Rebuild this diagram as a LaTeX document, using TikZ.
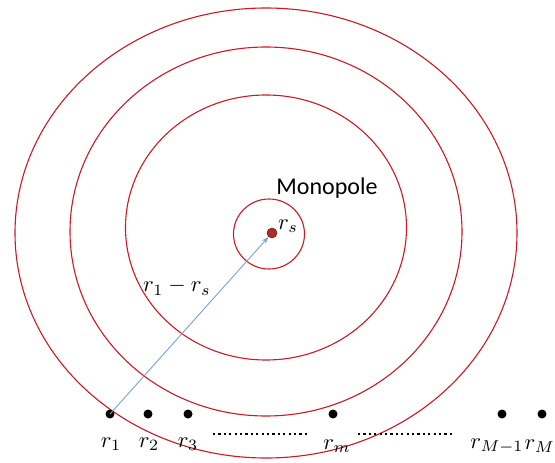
\documentclass[tikz,border=0pt]{standalone}
\usepackage{fontspec}
\newfontfamily\labelfont{Carlito}
\usetikzlibrary{arrows.meta}
\definecolor{ringred}{RGB}{205,25,35}
\definecolor{arrowblue}{RGB}{120,160,210}
\definecolor{srcfill}{RGB}{170,45,40}
\newcommand{\bigmath}[1]{\scalebox{2.25}{$#1$}}
\tikzset{
  ring/.style={draw=ringred, line width=1.1pt},
  sensor/.style={circle, fill=black, inner sep=0pt, minimum size=9pt},
  lbl/.style={inner sep=0pt},
  dotline/.style={line width=2.2pt, dash pattern=on 2.2pt off 3.2pt}
}
\begin{document}
\begin{tikzpicture}[x=1pt,y=-1pt]
\useasboundingbox (0,0) rectangle (555,463);
\draw[ring] (266,233) ellipse [x radius=251, y radius=225];
\draw[ring] (266,231.5) ellipse [x radius=196, y radius=184.5];
\draw[ring] (266,227.5) ellipse [x radius=140.5, y radius=132.5];
\draw[ring] (269,234) ellipse [x radius=35.5, y radius=35];
\node[font=\labelfont\fontsize{24}{28}\selectfont, inner sep=0pt] (mono) at (327,188) {Monopole};
\node[sensor] (s1) at (110,414) {};
\node[sensor] (s2) at (148,414) {};
\node[sensor] (s3) at (188,414) {};
\node[sensor] (sm) at (333,414) {};
\node[sensor] (sM1) at (502,414) {};
\node[sensor] (sM) at (542,414) {};
\node[lbl] (l1) at (111,444) {\bigmath{r_1}};
\node[lbl] (l2) at (149,444) {\bigmath{r_2}};
\node[lbl] (l3) at (188,444) {\bigmath{r_3}};
\node[lbl] (lm) at (337,446) {\bigmath{r_m}};
\node[lbl] (lM1) at (497,446) {\bigmath{r_{M-1}}};
\node[lbl, anchor=east] (lM) at (555,446) {\bigmath{r_M}};
\coordinate (d1a) at (213,434);
\coordinate (d1b) at (308,434);
\coordinate (d2a) at (358,434);
\coordinate (d2b) at (455,434);
\draw[dotline] (d1a) -- (d1b);
\draw[dotline] (d2a) -- (d2b);
\node[circle, fill=srcfill, draw=srcfill!70!black, line width=0.6pt, inner sep=0pt, minimum size=10pt] (src) at (272,233) {};
\node[lbl] (ls) at (288,226) {\bigmath{r_s}};
\draw[arrowblue, line width=0.9pt, -{Stealth[length=7pt,width=5pt]}] (s1.center) -- (src);
\node[lbl] (ldiff) at (177,287) {\bigmath{r_1-r_s}};
\end{tikzpicture}
\end{document}
